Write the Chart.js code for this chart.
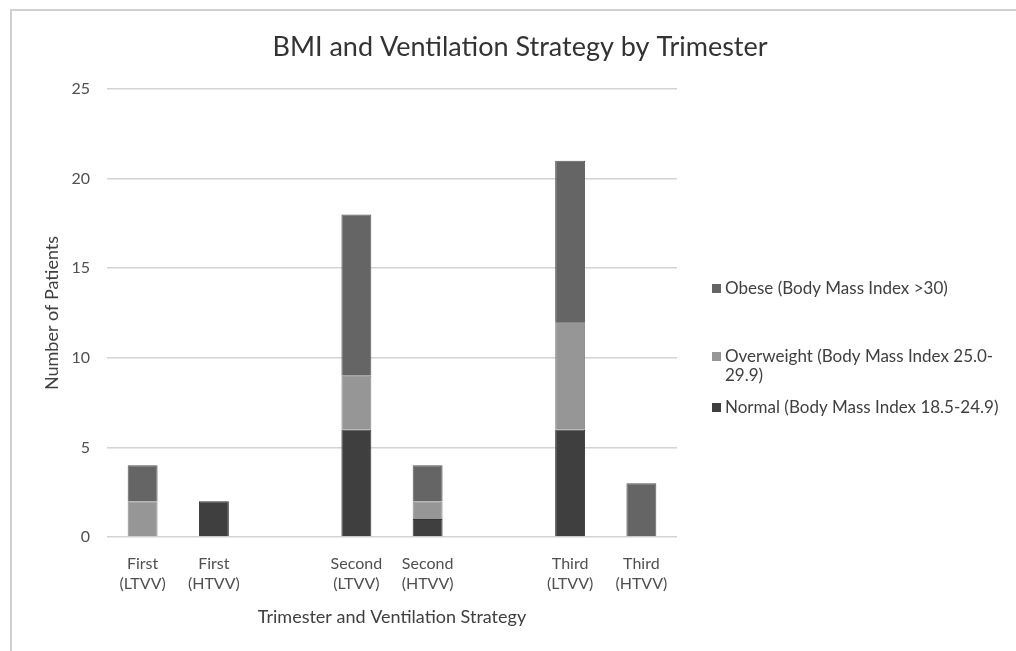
<!DOCTYPE html>
<html>
<head>
<meta charset="utf-8">
<script src="https://cdn.jsdelivr.net/npm/chart.js@4.4.0/dist/chart.umd.min.js"></script>
<style>
  html, body { margin: 0; padding: 0; background: #fff; }
  #wrap { position: absolute; left: 0; top: 0; width: 1016px; height: 651px; }
  #frame { position: absolute; left: 10px; top: 9px; width: 1010px; height: 650px;
           border-left: 2px solid #d0d0d0; border-top: 2px solid #d0d0d0; }
</style>
</head>
<body>
<div id="frame"></div>
<div id="wrap"><canvas id="chart" width="1016" height="651"></canvas></div>
<script>
// categories (empty ones are the gaps between trimesters)
const categories = [
  ['First', '(LTVV)'], ['First', '(HTVV)'], '',
  ['Second', '(LTVV)'], ['Second', '(HTVV)'], '',
  ['Third', '(LTVV)'], ['Third', '(HTVV)']
];
const normalVals     = [0, 2, null, 6, 1, null, 6, 0];
const overweightVals = [2, 0, null, 3, 1, null, 6, 0];
const obeseVals      = [2, 0, null, 9, 2, null, 9, 3];

const seriesNames = [
  'Normal (Body Mass Index 18.5-24.9)',
  'Overweight (Body Mass Index 25.0-29.9)',
  'Obese (Body Mass Index >30)'
];
// legend text as it wraps in the original
const legendLines = [
  ['Obese (Body Mass Index >30)'],
  ['Overweight (Body Mass Index 25.0-', '29.9)'],
  ['Normal (Body Mass Index 18.5-24.9)']
];
const yTicks = [0, 5, 10, 15, 20, 25];
const chartTitle = 'BMI and Ventilation Strategy by Trimester';

const FONT = 'Lato, "Open Sans", sans-serif';

function zeroNoBorder(w) {
  return ctx => (ctx.raw ? w : 0);
}

// title over the whole picture + right hand legend (long label wraps)
const sideLegend = {
  id: 'sideLegend',
  afterDraw(chart) {
    const ctx = chart.ctx;
    ctx.save();
    ctx.fillStyle = '#333333';
    ctx.font = '27px ' + FONT;
    ctx.textAlign = 'center';
    ctx.textBaseline = 'middle';
    ctx.fillText(chartTitle, 520, 47);

    const x = chart.chartArea.right + 35;
    const rows = [289, 357, 408];
    const order = [2, 1, 0];
    ctx.font = '17px ' + FONT;
    ctx.textAlign = 'left';
    order.forEach((di, i) => {
      const ds = chart.data.datasets[di];
      const y = rows[i];
      ctx.fillStyle = ds.backgroundColor;
      ctx.fillRect(x, y - 5, 9, 9);
      ctx.fillStyle = '#404040';
      legendLines[i].forEach((line, j) => {
        ctx.fillText(line, x + 13, y + j * 19);
      });
    });
    ctx.restore();
  }
};

new Chart(document.getElementById('chart'), {
  type: 'bar',
  data: {
    labels: categories,
    datasets: [
      { label: seriesNames[0], data: normalVals, backgroundColor: '#3f3f3f',
        borderColor: '#333333', borderWidth: zeroNoBorder(1) },
      { label: seriesNames[1], data: overweightVals, backgroundColor: '#969696',
        borderColor: '#888888', borderWidth: zeroNoBorder(1) },
      { label: seriesNames[2], data: obeseVals, backgroundColor: '#656565',
        borderColor: '#585858', borderWidth: zeroNoBorder(1) }
    ]
  },
  options: {
    responsive: false,
    animation: false,
    layout: { padding: { left: 20, right: 339, top: 89, bottom: 0 } },
    datasets: { bar: { barPercentage: 0.42, categoryPercentage: 1.0 } },
    plugins: {
      legend: { display: false },
      tooltip: { enabled: false },
      title: { display: false }
    },
    scales: {
      x: {
        stacked: true,
        grid: { display: false },
        border: { display: false },
        ticks: { color: '#505050', font: { family: FONT, size: 16, lineHeight: 1.3 }, padding: 8,
                 maxRotation: 0, autoSkip: false },
        title: { display: true, text: 'Trimester and Ventilation Strategy', color: '#404040',
                 font: { family: FONT, size: 18 }, padding: { top: 4, bottom: 23 } },
        afterFit(scale) { scale.height = 114; }
      },
      y: {
        stacked: true,
        min: 0, max: 25,
        afterBuildTicks(scale) { scale.ticks = yTicks.map(v => ({ value: v })); },
        grid: { color: '#d4d4d4', lineWidth: 1.5, drawTicks: false },
        border: { display: false },
        ticks: { color: '#505050', font: { family: FONT, size: 16 }, padding: 17 },
        title: { display: true, text: 'Number of Patients', color: '#404040',
                 font: { family: FONT, size: 18 }, padding: { top: 21, bottom: 0 } },
        afterFit(scale) { scale.width = 87; }
      }
    }
  },
  plugins: [sideLegend]
});
</script>
</body>
</html>
